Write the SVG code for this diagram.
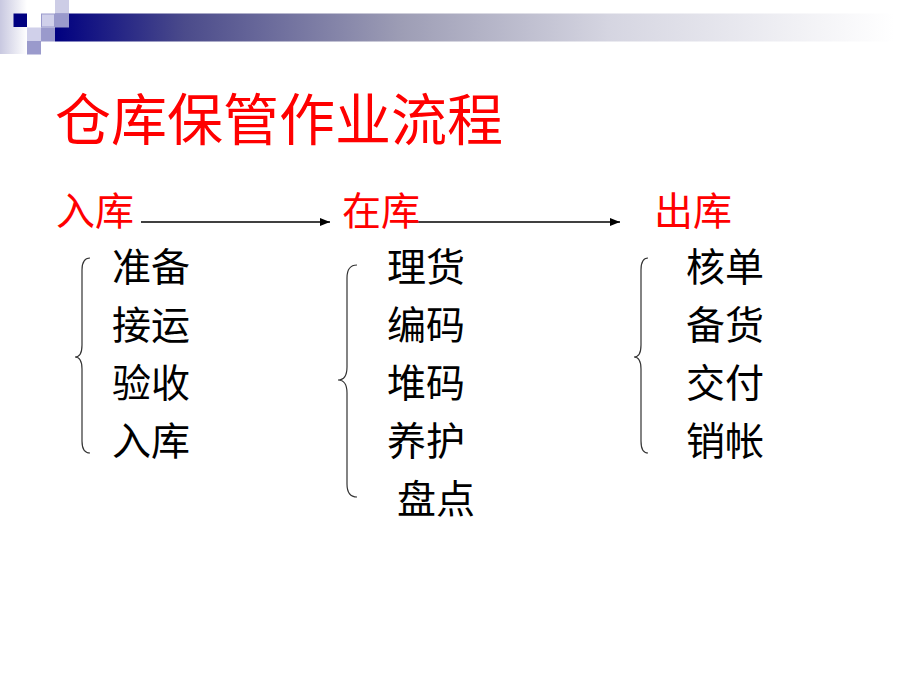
<svg xmlns="http://www.w3.org/2000/svg" width="920" height="690" viewBox="0 0 920 690">
  <defs>
    <linearGradient id="barGrad" x1="55" y1="0" x2="920" y2="0" gradientUnits="userSpaceOnUse">
      <stop offset="0" stop-color="#000080"/>
      <stop offset="0.15" stop-color="#4b4b8b"/>
      <stop offset="0.4" stop-color="#9d9db5"/>
      <stop offset="0.64" stop-color="#d5d5e1"/>
      <stop offset="0.97" stop-color="#ffffff"/>
    </linearGradient>
    <linearGradient id="stripGrad" x1="0" y1="0" x2="1" y2="0">
      <stop offset="0" stop-color="#c8c8e0"/>
      <stop offset="1" stop-color="#ffffff"/>
    </linearGradient>
    <marker id="arrow" viewBox="0 0 10 8" refX="10" refY="4" markerWidth="10" markerHeight="8" markerUnits="userSpaceOnUse" orient="auto">
      <path d="M0,0 L10,4 L0,8 z" fill="#000"/>
    </marker>
    <style>
      .title { font-family: "Noto Sans CJK SC", sans-serif; font-size: 56px; fill: #ff0000; }
      .head { font-family: "Noto Sans CJK SC", sans-serif; font-size: 39px; fill: #ff0000; }
      .item { font-family: "Noto Sans CJK SC", sans-serif; font-size: 39px; fill: #000000; }
      .conn { stroke: #000; stroke-width: 1.3; fill: none; }
      .brace { stroke: #333; stroke-width: 1.2; fill: none; }
    </style>
  </defs>

  <g id="decoration">
    <rect x="0" y="0" width="27" height="54" fill="url(#stripGrad)"/>
    <rect x="55" y="13.5" width="865" height="28" fill="url(#barGrad)"/>
    <rect x="13.5" y="13.5" width="13.5" height="13.5" fill="#000080"/>
    <rect x="55" y="0" width="14" height="13.5" fill="#cdcde6"/>
    <rect x="41.5" y="14" width="13" height="13" fill="#d0d0ea" stroke="#9a9acc" stroke-width="1"/>
    <rect x="55" y="13.5" width="14" height="14" fill="#9a9acc"/>
    <rect x="27" y="27.5" width="14" height="14" fill="#d0d0ea"/>
    <rect x="41" y="27.5" width="14" height="14" fill="#9a9acc"/>
    <rect x="27" y="41" width="14" height="13.5" fill="#9a9acc"/>
  </g>

  <g id="title">
    <text class="title" x="55" y="140">仓库保管作业流程</text>
  </g>

  <g id="connectors">
    <line class="conn" x1="141" y1="222" x2="330" y2="222" marker-end="url(#arrow)"/>
    <line class="conn" x1="408" y1="222" x2="620" y2="222" marker-end="url(#arrow)"/>
    <path class="brace" d="M90,258 Q82,258 82,270 L82,345 Q82,357 75,357 Q82,357 82,369 L82,441 Q82,453 90,453"/>
    <path class="brace" d="M357,265 Q347,265 347,278 L347,367 Q347,380 338,380 Q347,380 347,393 L347,484 Q347,497 357,497"/>
    <path class="brace" d="M648,258 Q641,258 641,270 L641,345 Q641,357 634,357 Q641,357 641,369 L641,441 Q641,453 648,453"/>
  </g>

  <g id="node-ruku">
    <text class="head" x="56" y="225">入库</text>
    <text class="item" x="112" y="281">准备</text>
    <text class="item" x="112" y="339">接运</text>
    <text class="item" x="112" y="397">验收</text>
    <text class="item" x="112" y="455">入库</text>
  </g>

  <g id="node-zaiku">
    <text class="head" x="342" y="225">在库</text>
    <text class="item" x="387" y="281">理货</text>
    <text class="item" x="387" y="339">编码</text>
    <text class="item" x="387" y="397">堆码</text>
    <text class="item" x="387" y="455">养护</text>
    <text class="item" x="397" y="513">盘点</text>
  </g>

  <g id="node-chuku">
    <text class="head" x="654" y="225">出库</text>
    <text class="item" x="686" y="281">核单</text>
    <text class="item" x="686" y="339">备货</text>
    <text class="item" x="686" y="397">交付</text>
    <text class="item" x="686" y="455">销帐</text>
  </g>
</svg>
